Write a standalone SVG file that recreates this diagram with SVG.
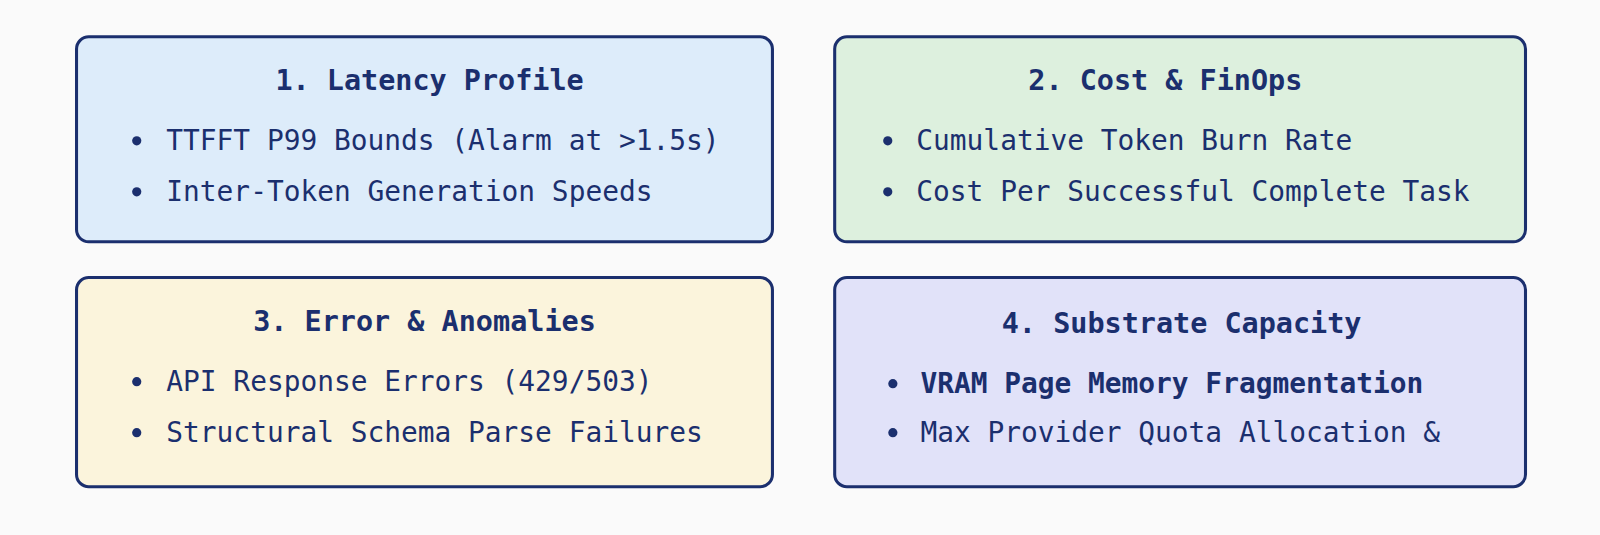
<svg xmlns="http://www.w3.org/2000/svg" width="1600" height="535" viewBox="0 0 1600 535">
<style>
.box{stroke:#1b2f6e;stroke-width:3}
text{font-family:"DejaVu Sans Mono",monospace;fill:#1b2f6e;font-size:27.3px}
.t{font-weight:bold;text-anchor:middle;font-size:27.9px}
.b{fill:#1b2f6e}
</style>
<rect width="1600" height="535" fill="#fafafa"/>
<g transform="scale(1.0204)">
<g id="n1"><rect class="box" x="75" y="36" width="682" height="201" rx="12" fill="#ddecfa"/>
<text class="t" x="421" y="88">1. Latency Profile</text>
<circle class="b" cx="134" cy="138" r="4.5"/><text x="163" y="147">TTFFT P99 Bounds (Alarm at &gt;1.5s)</text>
<circle class="b" cx="134" cy="188" r="4.5"/><text x="163" y="197">Inter-Token Generation Speeds</text></g>
<g id="n2"><rect class="box" x="818" y="36" width="677" height="201" rx="12" fill="#ddf0de"/>
<text class="t" x="1142" y="88">2. Cost &amp; FinOps</text>
<circle class="b" cx="870" cy="138" r="4.5"/><text x="898" y="147">Cumulative Token Burn Rate</text>
<circle class="b" cx="870" cy="188" r="4.5"/><text x="898" y="197">Cost Per Successful Complete Task</text></g>
<g id="n3"><rect class="box" x="75" y="272" width="682" height="205" rx="12" fill="#fbf4dc"/>
<text class="t" x="416" y="324">3. Error &amp; Anomalies</text>
<circle class="b" cx="134" cy="374" r="4.5"/><text x="163" y="383">API Response Errors (429/503)</text>
<circle class="b" cx="134" cy="424" r="4.5"/><text x="163" y="433">Structural Schema Parse Failures</text></g>
<g id="n4"><rect class="box" x="818" y="272" width="677" height="205" rx="12" fill="#e1e2f9"/>
<text class="t" x="1158" y="326">4. Substrate Capacity</text>
<circle class="b" cx="875" cy="376" r="4.5"/><text x="902" y="385" font-weight="bold">VRAM Page Memory Fragmentation</text>
<circle class="b" cx="875" cy="424" r="4.5"/><text x="902" y="433">Max Provider Quota Allocation &amp;</text></g>
<g id="connectors"/>
</g>
</svg>
